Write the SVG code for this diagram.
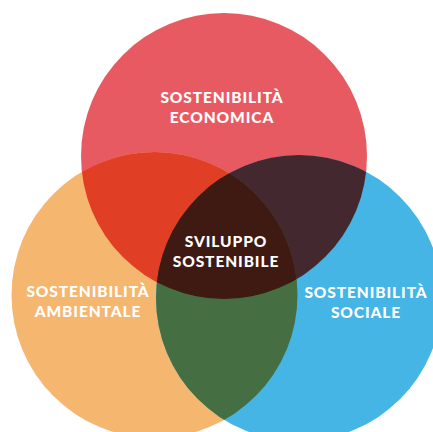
<svg xmlns="http://www.w3.org/2000/svg" width="433" height="432" viewBox="0 0 433 432">
<defs>
<clipPath id="cRed"><circle cx="224" cy="156" r="143"/></clipPath>
<clipPath id="cOrange"><circle cx="154.5" cy="295" r="143"/></clipPath>
<clipPath id="cBlue"><circle cx="299" cy="298" r="143"/></clipPath>
<style>
text{font-family:Lato,"Open Sans","Liberation Sans",sans-serif;font-weight:900;font-size:15.5px;fill:#fff;text-anchor:middle;letter-spacing:0.9px}
</style>
</defs>
<rect width="433" height="432" fill="#fff"/>
<g id="economica">
<circle cx="224" cy="156" r="143" fill="#E85A62"/>
</g>
<g id="ambientale">
<circle cx="154.5" cy="295" r="143" fill="#F5B66F"/>
</g>
<g id="sociale">
<circle cx="299" cy="298" r="143" fill="#45B5E6"/>
</g>
<g id="overlaps">
<g clip-path="url(#cRed)"><circle cx="154.5" cy="295" r="143" fill="#E03E25"/></g>
<g clip-path="url(#cRed)"><circle cx="299" cy="298" r="143" fill="#43282F"/></g>
<g clip-path="url(#cOrange)"><circle cx="299" cy="298" r="143" fill="#456E42"/></g>
<g clip-path="url(#cRed)"><g clip-path="url(#cOrange)"><circle cx="299" cy="298" r="143" fill="#3E1A12"/></g></g>
</g>
<g id="labels">
<text x="222" y="103">SOSTENIBILITÀ</text>
<text x="222" y="123">ECONOMICA</text>
<text x="226" y="247">SVILUPPO</text>
<text x="226" y="267">SOSTENIBILE</text>
<text x="88" y="297">SOSTENIBILITÀ</text>
<text x="88" y="317">AMBIENTALE</text>
<text x="366" y="298">SOSTENIBILITÀ</text>
<text x="366" y="318">SOCIALE</text>
</g>
</svg>
